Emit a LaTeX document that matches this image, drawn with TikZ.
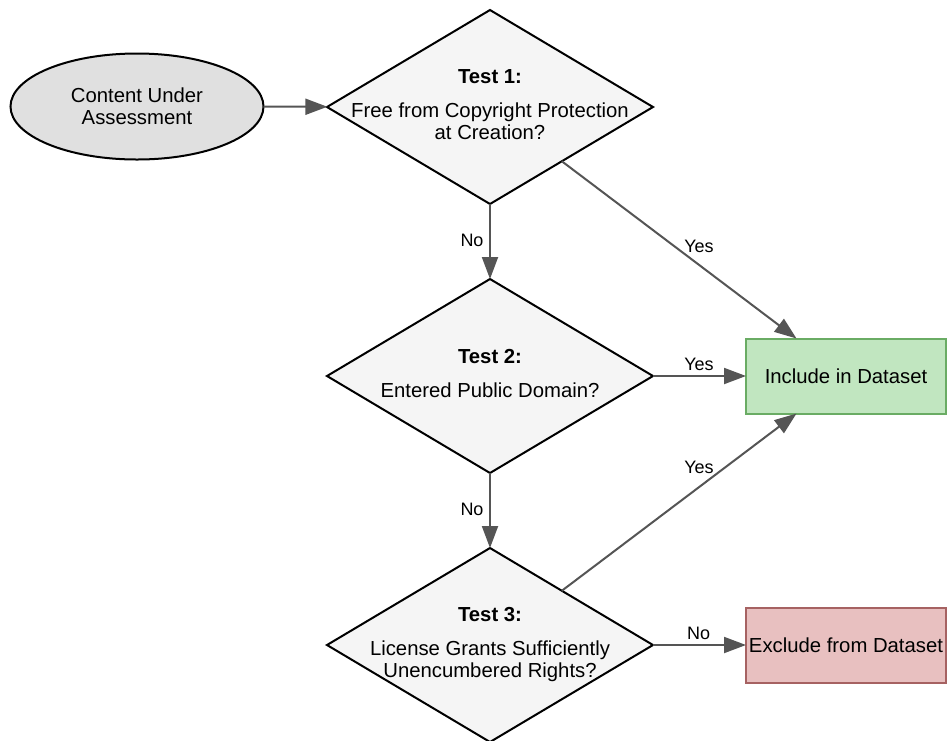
\documentclass[tikz,border=0pt]{standalone}
\usepackage{fontspec}
\setmainfont{Liberation Sans}
\usetikzlibrary{shapes.geometric,arrows.meta}
\definecolor{ellfill}{RGB}{224,224,224}
\definecolor{diafill}{RGB}{245,245,245}
\definecolor{incfill}{RGB}{193,230,192}
\definecolor{incdraw}{RGB}{106,172,100}
\definecolor{excfill}{RGB}{232,192,192}
\definecolor{excdraw}{RGB}{166,98,98}
\definecolor{edgecol}{RGB}{85,85,85}
\newcommand{\testtext}[1]{\makebox[0pt]{\begin{tabular}{@{}c@{}}#1\end{tabular}}}
\begin{document}
\begin{tikzpicture}[x=1pt,y=-1pt,
  mainfont/.style={font=\fontsize{20.3}{22}\selectfont},
  base/.style={line width=2pt, outer sep=0pt, inner sep=0pt, mainfont},
  startnode/.style={base, ellipse, draw=black, fill=ellfill, minimum width=253pt, minimum height=106pt, align=center},
  testnode/.style={base, diamond, draw=black, fill=diafill, minimum width=326pt, minimum height=194pt},
  incbox/.style={base, rectangle, draw=incdraw, fill=incfill, minimum width=200pt, minimum height=75pt},
  excbox/.style={base, rectangle, draw=excdraw, fill=excfill, minimum width=200pt, minimum height=75pt},
  flow/.style={line width=2pt, draw=edgecol, -{Triangle[length=22pt,width=16pt,fill=edgecol]}},
  lab/.style={font=\fontsize{18}{20}\selectfont, inner sep=0pt, text=black}
]
\useasboundingbox (0,0) rectangle (947,740);

\node[startnode] (ell) at (137,106.5) {Content Under\\Assessment};
\node[testnode] (t1) at (490,107) {\testtext{\textbf{Test 1:}\\[11.3pt]Free from Copyright Protection\\at Creation?}};
\node[testnode] (t2) at (490,376) {\testtext{\textbf{Test 2:}\\[11.3pt]Entered Public Domain?}};
\node[testnode] (t3) at (490,645) {\testtext{\textbf{Test 3:}\\[11.3pt]License Grants Sufficiently\\Unencumbered Rights?}};
\node[incbox] (inc) at (846,376) {Include in Dataset};
\node[excbox] (exc) at (846,645) {Exclude from Dataset};

\draw[flow] (ell) -- (t1);
\draw[flow] (t1) -- (t2) node[lab] at (472,240) {No};
\draw[flow] (t1) -- (inc) node[lab] at (699,246) {Yes};
\draw[flow] (t2) -- (inc) node[lab] at (699,364.5) {Yes};
\draw[flow] (t2) -- (t3) node[lab] at (472,509) {No};
\draw[flow] (t3) -- (inc) node[lab] at (699,467.5) {Yes};
\draw[flow] (t3) -- (exc) node[lab] at (698.5,633.7) {No};
\end{tikzpicture}
\end{document}
